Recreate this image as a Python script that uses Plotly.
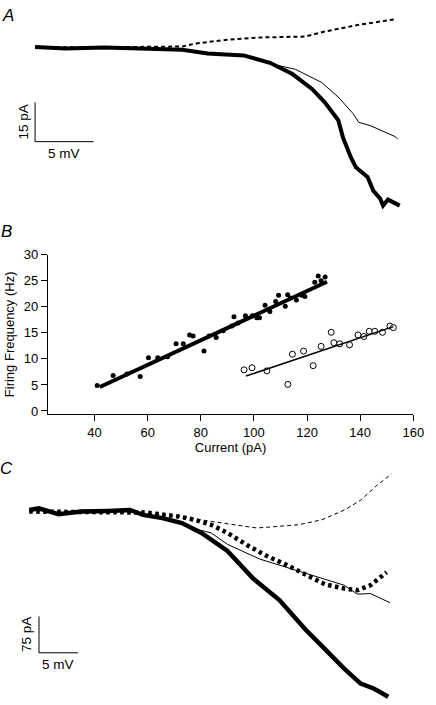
import plotly.graph_objects as go

FONT = "Liberation Sans, Arial, sans-serif"

# ---------------- Panel A data (voltage in mV, current in pA) ----------------
a_thick_v = [-100.0, -97.42, -94.08, -90.5, -87.42, -85.25, -82.17, -79.92, -78.0, -76.33,
             -75.25, -74.08, -73.67, -73.0, -72.58, -71.58, -71.08, -70.5, -70.25, -69.83, -68.83]
a_thick_i = [0.1, -0.5, -0.1, -0.5, -0.9, -2.4, -3.1, -5.9, -10.2, -15.9,
             -20.9, -27.8, -34.5, -42.0, -45.75, -49.5, -54.75, -57.75, -60.4, -58.1, -60.4]

a_thin_v = [-100.0, -97.42, -94.08, -90.5, -87.42, -85.25, -82.17, -79.67, -77.75, -75.5,
            -74.08, -72.83, -72.33, -71.33, -70.25, -69.25, -69.0]
a_thin_i = [0.1, -0.5, -0.1, -0.5, -0.9, -2.4, -3.1, -6.5, -8.4, -13.4,
            -19.0, -25.2, -28.6, -29.9, -32.1, -34.0, -34.9]

a_dash_v = [-100.0, -94.67, -87.42, -86.33, -83.58, -80.75, -76.92, -75.25, -72.42, -69.08]
a_dash_i = [0.1, 0.0, 0.3, 1.4, 2.9, 3.75, 4.1, 6.0, 8.5, 10.8]

# ---------------- Panel B data ----------------
ctrl_current = [41.0, 47.0, 52.2, 57.2, 60.3, 63.8, 67.5, 70.7, 73.4, 75.8, 77.1, 81.2, 83.1,
                85.8, 88.4, 91.7, 92.5, 94.0, 96.8, 99.4, 101.1, 102.1, 104.2, 106.0, 108.2,
                109.3, 111.8, 112.7, 113.7, 116.0, 118.0, 119.2, 122.9, 124.2, 125.3, 126.8]
ctrl_freq = [4.9, 6.8, 7.1, 6.6, 10.2, 10.2, 10.4, 12.9, 12.9, 14.6, 14.4, 11.5, 14.4,
             14.1, 15.4, 16.3, 18.1, 16.9, 18.3, 18.3, 17.9, 17.9, 20.3, 19.1, 21.0,
             22.2, 20.1, 22.3, 21.7, 21.3, 22.2, 22.0, 24.7, 25.9, 25.0, 25.7]
ctrl_fit_x = [42.0, 127.5]
ctrl_fit_y = [4.6, 24.8]

drug_current = [96.3, 99.3, 104.9, 112.8, 114.5, 118.7, 122.3, 125.3, 129.1, 130.1, 132.3,
                136.0, 139.2, 141.4, 143.4, 145.5, 148.4, 151.2, 152.5]
drug_freq = [7.9, 8.3, 7.7, 5.1, 10.9, 11.5, 8.7, 12.4, 15.1, 13.1, 12.9,
             12.7, 14.6, 14.3, 15.3, 15.3, 15.1, 16.3, 16.0]
drug_fit_x = [97.0, 152.5]
drug_fit_y = [6.7, 16.2]

x_ticks = [40, 60, 80, 100, 120, 140, 160]
y_ticks = [0, 5, 10, 15, 20, 25, 30]

# ---------------- Panel C data ----------------
c_thick_v = [-100.0, -98.75, -96.25, -93.33, -90.0, -87.08, -85.42, -82.92, -80.42, -77.92,
             -74.58, -71.25, -67.92, -64.58, -62.08, -59.58, -57.5, -55.83, -53.96]
c_thick_i = [0.6, 4.1, -8.1, -2.6, -1.4, 0.6, -9.5, -16.2, -26.4, -46.6,
             -83.7, -141.3, -185.1, -245.9, -286.4, -327.0, -357.4, -367.5, -384.5]

c_thin_v = [-100.0, -98.75, -96.25, -93.33, -90.0, -87.08, -85.42, -82.92, -80.42, -79.17,
            -76.67, -74.58, -70.42, -67.08, -62.5, -59.58, -57.92, -56.25, -53.75]
c_thin_i = [0.6, 4.1, -8.1, -2.6, -1.4, 0.6, -9.5, -16.2, -26.4, -36.5,
            -46.6, -70.3, -100.7, -117.6, -141.3, -154.7, -172.9, -171.7, -190.5]

c_dot_v = [-100.0, -91.25, -85.0, -80.83, -78.75, -76.67, -74.58, -72.08, -69.58, -67.08,
           -64.58, -62.08, -59.58, -57.92, -56.25, -54.17]
c_dot_i = [-2.6, -2.6, -4.7, -12.8, -19.7, -29.8, -46.6, -71.6, -93.9, -112.1,
           -132.4, -152.6, -161.6, -164.8, -154.7, -127.7]

c_dash_v = [-100.0, -91.25, -85.0, -80.83, -76.67, -73.75, -70.83, -67.92, -65.42, -62.5,
            -59.58, -57.5, -55.42, -53.54]
c_dash_i = [-2.6, -2.6, -6.1, -12.8, -22.9, -29.8, -36.5, -33.0, -29.8, -19.7,
            0.6, 20.9, 51.3, 75.0]

# scale bars: (origin V, origin I, mV length, pA length)
a_bar = dict(v0=-100.0, i0=-36.0, dv=5.0, di=15.0)
c_bar = dict(v0=-98.75, i0=-293.9, dv=5.0, di=75.0)

fig = go.Figure()


def line(x, y, ax, width, dash="solid", color="black"):
    fig.add_trace(go.Scatter(x=x, y=y, mode="lines", xaxis=ax[0], yaxis=ax[1],
                             line=dict(color=color, width=width, dash=dash),
                             showlegend=False, hoverinfo="skip"))


# Panel A
A = ("x", "y")
line(a_dash_v, a_dash_i, A, 2, "4px,3px")
line(a_thin_v, a_thin_i, A, 1)
line(a_thick_v, a_thick_i, A, 4)
line([a_bar["v0"], a_bar["v0"], a_bar["v0"] + a_bar["dv"]],
     [a_bar["i0"] + a_bar["di"], a_bar["i0"], a_bar["i0"]], A, 1)

# Panel B
B = ("x2", "y2")
fig.add_trace(go.Scatter(x=ctrl_current, y=ctrl_freq, mode="markers", xaxis="x2", yaxis="y2",
                         marker=dict(color="black", size=5), showlegend=False))
line(ctrl_fit_x, ctrl_fit_y, B, 4)
fig.add_trace(go.Scatter(x=drug_current, y=drug_freq, mode="markers", xaxis="x2", yaxis="y2",
                         marker=dict(color="white", size=6, line=dict(color="black", width=1)),
                         showlegend=False))
line(drug_fit_x, drug_fit_y, B, 1.5)

# Panel C
C = ("x3", "y3")
line(c_dash_v, c_dash_i, C, 1, "4px,3px")
line(c_thin_v, c_thin_i, C, 1)
line(c_dot_v, c_dot_i, C, 4.5, "3.5px,3.5px")
line(c_thick_v, c_thick_i, C, 4.5)
line([c_bar["v0"], c_bar["v0"], c_bar["v0"] + c_bar["dv"]],
     [c_bar["i0"] + c_bar["di"], c_bar["i0"], c_bar["i0"]], C, 1)

W, H = 436, 705


def py(px):
    return 1 - px / H


hidden = dict(visible=False, showgrid=False, zeroline=False)
axis_common = dict(showline=True, linecolor="black", linewidth=1, ticks="outside",
                   ticklen=6, tickwidth=1, tickcolor="black", showgrid=False, zeroline=False,
                   tickfont=dict(family=FONT, size=13, color="black"))

fig.update_layout(
    width=W, height=H, margin=dict(l=0, r=0, t=0, b=0),
    paper_bgcolor="white", plot_bgcolor="rgba(0,0,0,0)",
    font=dict(family=FONT, color="black"),
    xaxis=dict(domain=[0, 1], range=[-103, -103 + W / 12], anchor="y", **hidden),
    yaxis=dict(domain=[py(215), 1], range=[-65.25, 15.375], anchor="x", **hidden),
    xaxis2=dict(domain=[49 / W, 424 / W], range=[22.4, 160], anchor="y2",
                tickvals=x_ticks, ticktext=[str(t) for t in x_ticks],
                title=dict(text="Current (pA)", font=dict(family=FONT, size=13), standoff=4),
                **axis_common),
    yaxis2=dict(domain=[py(414), py(252)], range=[-0.57, 30], anchor="x2",
                tickvals=y_ticks, ticktext=[str(t) for t in y_ticks],
                title=dict(text="Firing Frequency (Hz)", font=dict(family=FONT, size=13), standoff=6),
                **axis_common),
    xaxis3=dict(domain=[0, 1], range=[-103.75, -49.25], anchor="y3", **hidden),
    yaxis3=dict(domain=[0, py(460)], range=[-391.2, 105.4], anchor="x3", **hidden),
)

ann = []
for letter, x, y in [("A", 8, 9), ("B", 7, 228), ("C", 7, 469)]:
    ann.append(dict(text="<i>%s</i>" % letter, xref="paper", yref="paper", x=x / W, y=py(y),
                    xanchor="center", yanchor="middle", showarrow=False,
                    font=dict(family=FONT, size=17, color="black")))

for bar, ax, ay in [(a_bar, "x", "y"), (c_bar, "x3", "y3")]:
    ann.append(dict(text="%g pA" % bar["di"], xref=ax, yref=ay, x=bar["v0"],
                    y=bar["i0"] + bar["di"] / 2, xanchor="right", yanchor="middle",
                    xshift=-3, textangle=-90, showarrow=False,
                    font=dict(family=FONT, size=13.5, color="black")))
    ann.append(dict(text="%g mV" % bar["dv"], xref=ax, yref=ay, x=bar["v0"] + bar["dv"] / 2,
                    y=bar["i0"], xanchor="center", yanchor="top", yshift=-2, showarrow=False,
                    font=dict(family=FONT, size=13.5, color="black")))

fig.update_layout(annotations=ann)

fig.write_html("out.html", config={"displayModeBar": False},
               post_script="document.body.style.margin='0px';document.body.style.overflow='hidden';")
